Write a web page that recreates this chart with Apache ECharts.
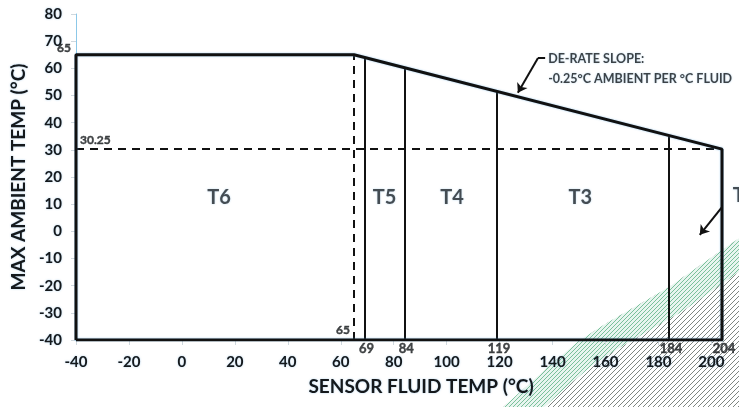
<!DOCTYPE html>
<html>
<head>
<meta charset="utf-8">
<script src="https://cdn.jsdelivr.net/npm/echarts@6/dist/echarts.min.js"></script>
<style>html,body{margin:0;padding:0;background:#fff}#c{width:739px;height:407px}</style>
</head>
<body>
<div id="c"></div>
<script>
// ---- data ----
const envelopeX = [-40, -40, 65, 204, 204, -40];
const envelopeY = [-40, 65, 65, 30.25, -40, -40];
const zoneBoundaries = [69, 84, 119, 184];
const zoneTops = [64, 60.25, 51.5, 35];
const boundaryLabels = ['69', '84', '119', '184', '204'];
const boundaryLabelX = [69, 84, 119, 184, 204];
const dashFluid = 65;
const dashAmbient = 30.25;
const zoneNames = ['T6', 'T5', 'T4', 'T3'];
const zoneNameX = [14, 76.5, 102, 150.5];
const zoneNameY = [12.5, 12.5, 12.5, 12.5];
const sideZoneName = 'T2';
const sideZoneX = 208.1;
const sideZoneY = 13.2;
const sideArrowX = [206.8, 195.6];
const sideArrowY = [12.3, -1.3];
const slopeTickX = [137.2, 134.5];
const slopeTickY = [63.8, 63.8];
const slopeArrowX = [134.5, 126.9];
const slopeArrowY = [63.8, 51.0];
const slopeText = ['DE-RATE SLOPE:', '-0.25°C AMBIENT PER °C FLUID'];
const hatchEdgeX = [116, 121, 140, 150, 160, 184, 204, 212];
const hatchEdgeY = [-70, -65, -48.5, -40.3, -34, -20.5, -6.9, -1.5];
const hatchCorner = [212, -70];

// ---- helpers ----
function hatch(color, w, h, lw) {
  const c = document.createElement('canvas');
  c.width = w; c.height = h;
  const g = c.getContext('2d');
  g.strokeStyle = color; g.lineWidth = lw;
  [[0,0],[-w,0],[w,0],[0,-h],[0,h]].forEach(([ox, oy]) => {
    g.beginPath(); g.moveTo(ox, oy + h); g.lineTo(ox + w, oy); g.stroke();
  });
  return c;
}
const grayHatch = hatch('rgba(75,85,80,0.8)', 5, 5, 0.9);
const greenHatch = hatch('rgba(95,180,135,0.9)', 4, 4, 0.9);

const FONT = 'Lato';
const TXT = '#15191c';
const glow = { textShadowColor: 'rgba(90,160,215,0.5)', textShadowBlur: 2 };
const heavy = { textBorderColor: TXT, textBorderWidth: 0.4 };

const envelope = envelopeX.map((x, i) => [x, envelopeY[i]]);
const zoneLines = zoneBoundaries.map((x, i) => ({ coords: [[x, -40], [x, zoneTops[i]]] }));
const dashLines = [
  { coords: [[dashFluid, -40], [dashFluid, 65]] },
  { coords: [[-40, dashAmbient], [204, dashAmbient]] }
];

const option = {
  animation: false,
  grid: { left: 76, right: 17, top: 14, bottom: 67 },
  xAxis: {
    type: 'value', min: -40, max: 204, interval: 20, z: 3,
    name: 'SENSOR FLUID TEMP (°C)', nameLocation: 'middle', nameGap: 37,
    nameTextStyle: { fontFamily: FONT, fontWeight: 'bold', fontSize: 19, color: TXT, padding: [0, 0, 0, 44], ...glow },
    axisLine: { onZero: false, lineStyle: { color: '#9cc9e0', width: 1 } },
    axisTick: { show: true, length: 5, lineStyle: { color: '#cfd8de' } },
    axisLabel: { margin: 15, fontFamily: FONT, fontWeight: 'bold', fontSize: 15, color: TXT,
      formatter: v => (v % 20 === 0 ? String(v) : ''), ...glow },
    splitLine: { show: false }
  },
  yAxis: {
    type: 'value', min: -40, max: 80, interval: 10,
    name: 'MAX AMBIENT TEMP (°C)', nameLocation: 'middle', nameGap: 47,
    nameTextStyle: { fontFamily: FONT, fontWeight: 'bold', fontSize: 19, color: TXT, ...glow },
    axisLine: { show: true, onZero: false, lineStyle: { color: '#8cc8e8', width: 1 } },
    axisTick: { show: true, length: 5, lineStyle: { color: '#cfd8de' } },
    axisLabel: { margin: 14, fontFamily: FONT, fontWeight: 'bold', fontSize: 15, color: TXT, ...glow },
    splitLine: { show: false }
  },
  series: [
    {
      type: 'custom', z: 1, clip: false, silent: true,
      data: [0],
      renderItem: function (params, api) {
        const pts = hatchEdgeX.map((x, i) => api.coord([x, hatchEdgeY[i]]));
        const corner = api.coord(hatchCorner);
        const band = pts.map(p => [p[0] + 14, p[1] + 24]).reverse();
        return {
          type: 'group',
          children: [
            { type: 'polygon', shape: { points: pts.concat([corner]) },
              style: { fill: { image: grayHatch, repeat: 'repeat' } } },
            { type: 'polygon', shape: { points: pts.concat(band) },
              style: { fill: '#ffffff' } },
            { type: 'polygon', shape: { points: pts.concat(band) },
              style: { fill: 'rgba(150,210,180,0.22)' } },
            { type: 'polygon', shape: { points: pts.concat(band) },
              style: { fill: { image: greenHatch, repeat: 'repeat' } } }
          ]
        };
      }
    },
    {
      type: 'line', data: envelope, symbol: 'none', z: 5,
      lineStyle: { color: '#111', width: 3, shadowColor: 'rgba(80,160,220,0.6)', shadowBlur: 2 }
    },
    {
      type: 'lines', coordinateSystem: 'cartesian2d', z: 4, data: zoneLines,
      lineStyle: { color: '#111', width: 2, opacity: 1 }
    },
    {
      type: 'lines', coordinateSystem: 'cartesian2d', z: 4, data: dashLines,
      lineStyle: { color: '#111', width: 2, type: [8, 6], opacity: 1 }
    },
    {
      type: 'lines', coordinateSystem: 'cartesian2d', z: 6,
      data: [{ coords: slopeTickX.map((x, i) => [x, slopeTickY[i]]) }],
      lineStyle: { color: '#111', width: 2, opacity: 1 }
    },
    {
      type: 'lines', coordinateSystem: 'cartesian2d', z: 6,
      symbol: ['none', 'arrow'], symbolSize: 9,
      data: [
        { coords: slopeArrowX.map((x, i) => [x, slopeArrowY[i]]) },
        { coords: sideArrowX.map((x, i) => [x, sideArrowY[i]]) }
      ],
      lineStyle: { color: '#111', width: 2, opacity: 1 }
    },
    {
      type: 'scatter', symbolSize: 0, z: 7, clip: false, silent: true,
      data: zoneNames.map((n, i) => ({ name: n, value: [zoneNameX[i], zoneNameY[i]] }))
        .concat([{ name: sideZoneName, value: [sideZoneX, sideZoneY],
          label: { align: 'left' } }]),
      label: { show: true, position: [0, 0], align: 'center', verticalAlign: 'middle',
        formatter: p => p.name, fontFamily: FONT, fontWeight: 'bold', fontSize: 20, color: '#22272b', ...glow }
    },
    {
      type: 'scatter', symbolSize: 0, z: 7, clip: false, silent: true,
      data: boundaryLabels.map((n, i) => ({ name: n, value: [boundaryLabelX[i], -40] })),
      label: { show: true, position: [2, 2], align: 'center', verticalAlign: 'top',
        formatter: p => p.name, fontFamily: FONT, fontWeight: 'bold', fontSize: 13, color: TXT, ...heavy }
    },
    {
      type: 'scatter', symbolSize: 0, z: 7, clip: false, silent: true,
      data: [
        { name: '65', value: [-40, 65], label: { position: [-5, -1], align: 'right', verticalAlign: 'bottom' } },
        { name: '30.25', value: [-40, dashAmbient], label: { position: [4, -3], align: 'left', verticalAlign: 'bottom' } },
        { name: '65', value: [dashFluid, -40], label: { position: [-4, -4], align: 'right', verticalAlign: 'bottom' } }
      ],
      label: { show: true, formatter: p => p.name, fontFamily: FONT, fontWeight: 'bold', fontSize: 12, color: TXT, ...heavy }
    },
    {
      type: 'scatter', symbolSize: 0, z: 7, clip: false, silent: true,
      data: [{ name: slopeText.join('\n'), value: [slopeTickX[0], slopeTickY[0]] }],
      label: { show: true, position: [3, -9], align: 'left', verticalAlign: 'top', lineHeight: 20,
        formatter: p => p.name, fontFamily: FONT, fontWeight: 'bold', fontSize: 12.5, color: TXT, ...glow }
    }
  ]
};
const chart = echarts.init(document.getElementById('c'), null, { renderer: 'canvas' });
chart.setOption(option);
</script>
</body>
</html>
